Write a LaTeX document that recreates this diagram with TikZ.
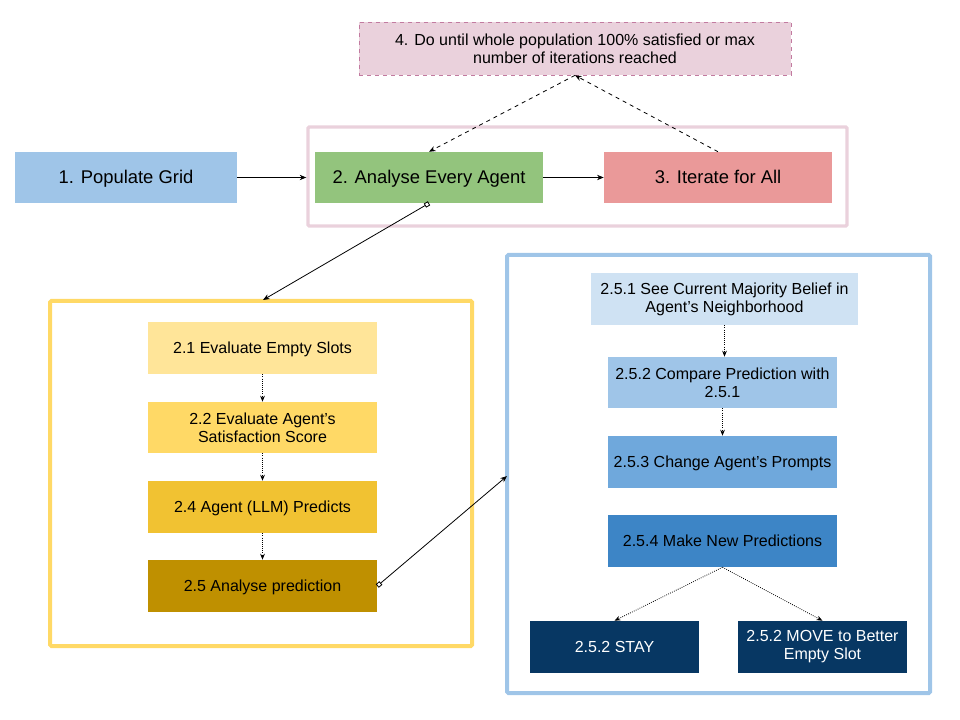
\documentclass[tikz,border=0pt]{standalone}
\usepackage{fontspec}
\setmainfont{Liberation Sans}
\usetikzlibrary{fit,arrows.meta}
\definecolor{pinkfill}{HTML}{EAD1DC}
\definecolor{pinkline}{HTML}{C27BA0}
\definecolor{pinkframe}{HTML}{EAD1DC}
\definecolor{c1}{HTML}{9FC5E8}
\definecolor{c2}{HTML}{93C47D}
\definecolor{c3}{HTML}{EA9999}
\definecolor{y1}{HTML}{FFE599}
\definecolor{y2}{HTML}{FFD966}
\definecolor{y3}{HTML}{F1C232}
\definecolor{y4}{HTML}{BF9000}
\definecolor{b1}{HTML}{CFE2F3}
\definecolor{b2}{HTML}{9FC5E8}
\definecolor{b3}{HTML}{6FA8DC}
\definecolor{b4}{HTML}{3D85C6}
\definecolor{b5}{HTML}{073763}
\begin{document}
\begin{tikzpicture}[x=0.75pt,y=-0.75pt,
  wd/.style={minimum width=#1*0.75pt},
  ht/.style={minimum height=#1*0.75pt},
  box/.style={inner sep=0pt, draw=none, align=center, font=\fontsize{12}{13.6}\selectfont},
  bigbox/.style={box, font=\fontsize{13.8}{16}\selectfont},
  oneline/.style={text height=1em, text depth=0.12em},
  frame/.style={inner sep=0pt, draw, fill=none, line width=3pt, rounded corners=1pt},
  arr/.style={-{Stealth[length=5pt,width=4pt]}, line width=0.6pt},
  darr/.style={arr, dashed},
  dotarr/.style={-{Stealth[length=4.5pt,width=3.5pt]}, line width=0.6pt, densely dotted},
  sqarr/.style={{Square[open,length=3.5pt,width=3.5pt]}-{Stealth[length=5pt,width=4pt]}, line width=0.6pt}]
\useasboundingbox (0,0) rectangle (960,720);

% containers
\node[frame, draw=pinkframe, line width=2.5pt, fit={(308,127)(847,226)}] (cpink) {};
\node[frame, draw=y2, fit={(50,301)(472,646)}] (cyel) {};
\node[frame, draw=c1, fit={(507,255)(930,693)}] (cblue) {};

% top row
\node[box, fill=pinkfill, draw=pinkline, dashed, line width=0.5pt, wd=432, ht=53] (b4n) at (575,48.5) {4. Do until whole population 100\% satisfied or max\\number of iterations reached};
\node[bigbox, oneline, fill=c1, wd=222, ht=51] (b1n) at (126,177.5) {1. Populate Grid};
\node[bigbox, oneline, fill=c2, wd=228, ht=51] (b2n) at (429,177.5) {2. Analyse Every Agent};
\node[bigbox, oneline, fill=c3, wd=228, ht=51] (b3n) at (718,177.5) {3. Iterate for All};

% yellow column
\node[box, oneline, fill=y1, wd=229, ht=52] (ya) at (262.5,348) {2.1 Evaluate Empty Slots};
\node[box, fill=y2, wd=229, ht=51] (yb) at (262.5,427.5) {2.2 Evaluate Agent's\\Satisfaction Score};
\node[box, oneline, fill=y3, wd=229, ht=52] (yc) at (262.5,507) {2.4 Agent (LLM) Predicts};
\node[box, oneline, fill=y4, wd=229, ht=52] (yd) at (262.5,586) {2.5 Analyse prediction};

% blue column
\node[box, fill=b1, wd=267, ht=52] (sa) at (724.5,299) {2.5.1 See Current Majority Belief in\\Agent’s Neighborhood};
\node[box, fill=b2, wd=229, ht=51] (sb) at (722.5,382.5) {2.5.2 Compare Prediction with\\2.5.1};
\node[box, oneline, fill=b3, wd=229, ht=52] (sc) at (722.5,462) {2.5.3 Change Agent’s Prompts};
\node[box, oneline, fill=b4, wd=229, ht=52] (sd) at (722.5,541) {2.5.4 Make New Predictions};
\node[box, oneline, fill=b5, text=white, wd=169, ht=52] (stay) at (614.5,647) {2.5.2 STAY};
\node[box, fill=b5, text=white, wd=169, ht=52] (move) at (822.5,647) {2.5.2 MOVE to Better\\Empty Slot};

\coordinate (ytop) at (263,300);
\coordinate (bleft) at (507,476);

% connectors
\draw[arr] (b1n.east) -- (b1n.east -| cpink.west);
\draw[arr] (b2n.east) -- (b3n.west);
\draw[darr] (b3n.north) -- (b4n.south);
\draw[darr] (b4n.south) -- (b2n.north);
\draw[sqarr] (b2n.south) -- (ytop);
\draw[sqarr] (yd.east) -- (bleft);

\draw[dotarr] (ya.south) -- (yb.north);
\draw[dotarr] (yb.south) -- (yc.north);
\draw[dotarr] (yc.south) -- (yd.north);

\draw[dotarr] (sa.south) -- (sa.south |- sb.north);
\draw[dotarr] (sb.south) -- (sc.north);
\draw[dotarr] (sd.south) -- (stay.north);
\draw[dotarr] (sd.south) -- (move.north);
\end{tikzpicture}
\end{document}
